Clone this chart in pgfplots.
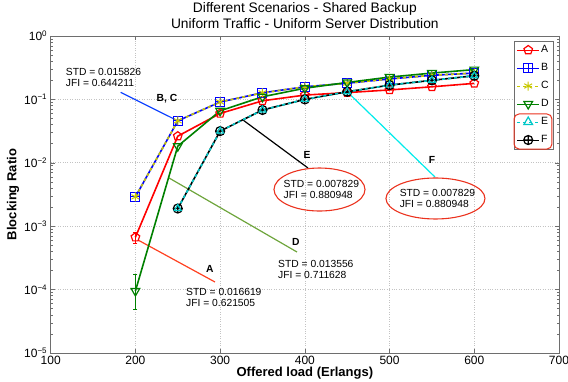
\documentclass[border=0pt]{standalone}
\usepackage{fontspec}
\setmainfont{Liberation Sans}
\usepackage{pgfplots}
\pgfplotsset{compat=1.18}
\usetikzlibrary{plotmarks}

\pgfdeclareplotmark{boxplus}{%
  \pgfpathrectangle{\pgfqpoint{-\pgfplotmarksize}{-\pgfplotmarksize}}{\pgfqpoint{2\pgfplotmarksize}{2\pgfplotmarksize}}%
  \pgfpathmoveto{\pgfqpoint{-\pgfplotmarksize}{0pt}}\pgfpathlineto{\pgfqpoint{\pgfplotmarksize}{0pt}}%
  \pgfpathmoveto{\pgfqpoint{0pt}{-\pgfplotmarksize}}\pgfpathlineto{\pgfqpoint{0pt}{\pgfplotmarksize}}%
  \pgfusepathqstroke}

\definecolor{cA}{RGB}{255,0,0}
\definecolor{cB}{RGB}{0,0,255}
\definecolor{cC}{RGB}{200,200,0}
\definecolor{cD}{RGB}{0,128,0}
\definecolor{cE}{RGB}{0,200,200}
\definecolor{annA}{RGB}{255,64,32}
\definecolor{annD}{RGB}{110,165,60}
\definecolor{annB}{RGB}{20,70,255}
\definecolor{annF}{RGB}{0,235,235}
\definecolor{ell}{RGB}{235,50,30}
\definecolor{gridc}{RGB}{195,195,195}
\definecolor{axc}{RGB}{110,110,110}

\newcommand{\annfont}{\fontsize{10.3}{11}\selectfont}

\begin{document}
\begin{tikzpicture}
\useasboundingbox (-50.7pt,-29pt) rectangle (517.3pt,353pt);
\begin{axis}[
  at={(0pt,0pt)}, anchor=south west,
  scale only axis, width=508.3pt, height=317pt,
  xmin=100, xmax=700, ymin=1e-5, ymax=1, ymode=log,
  xtick={100,200,300,400,500,600,700},
  xticklabels={100,200,300,400,500,600,700},
  ytick={1e-5,1e-4,1e-3,1e-2,1e-1,1},
  yticklabels={10\textsuperscript{−5},10\textsuperscript{−4},10\textsuperscript{−3},10\textsuperscript{−2},10\textsuperscript{−1},10\textsuperscript{0}},
  minor ytick={2e-5,3e-5,4e-5,5e-5,6e-5,7e-5,8e-5,9e-5,2e-4,3e-4,4e-4,5e-4,6e-4,7e-4,8e-4,9e-4,2e-3,3e-3,4e-3,5e-3,6e-3,7e-3,8e-3,9e-3,2e-2,3e-2,4e-2,5e-2,6e-2,7e-2,8e-2,9e-2,0.2,0.3,0.4,0.5,0.6,0.7,0.8,0.9},
  grid=major, major grid style={gridc, dotted, line width=0.6pt},
  axis line style={axc, line width=0.7pt},
  tick style={axc, line width=0.5pt},
  major tick length=4pt, minor tick length=2pt,
  tick align=inside,
  ticklabel style={font=\fontsize{12}{14}\selectfont},
  xlabel={Offered load (Erlangs)}, ylabel={Blocking Ratio},
  label style={font=\fontsize{13}{15}\selectfont\bfseries},
  xlabel style={at={(axis description cs:0.5,-0.063)}, anchor=center, inner sep=0pt},
  ylabel style={at={(axis description cs:-0.0742,0.5)}, anchor=center, inner sep=0pt},
  title={Different Scenarios - Shared Backup\\Uniform Traffic - Uniform Server Distribution},
  title style={align=center, font=\fontsize{13.8}{15.5}\selectfont, at={(axis description cs:0.5,1.045)}, anchor=center, inner sep=0pt},
  legend style={at={(rel axis cs:0.9882,0.984)}, anchor=north east, draw=axc, fill=white,
    font=\fontsize{10.5}{12}\selectfont, inner sep=2.5pt, row sep=5.5pt,
    nodes={inner sep=1.5pt, text height=7.5pt, text depth=2pt}},
  legend cell align=left,
  legend image code/.code={\draw[mark repeat=2,mark phase=2] plot coordinates {(0cm,0cm) (0.39cm,0cm) (0.78cm,0cm)};},
  clip=false,
]
% legend images
\addlegendimage{cA, line width=0.8pt, mark=pentagon, mark size=4.5pt, mark options={solid, line width=1.2pt}}
\addlegendimage{cB, line width=0.8pt, mark=boxplus, mark size=4.5pt, mark options={solid, line width=1pt}}
\addlegendimage{cC, line width=0.8pt, dashed, mark=asterisk, mark size=4.5pt, mark options={solid, line width=1pt}}
\addlegendimage{cD, line width=0.8pt, mark=triangle, mark size=5pt, mark options={solid, rotate=180, line width=1.2pt}}
\addlegendimage{cE, line width=0.8pt, dashed, mark=triangle, mark size=5pt, mark options={solid, line width=1.2pt}}
\addlegendimage{black, line width=0.8pt, mark=oplus, mark size=4.5pt, mark options={solid, line width=1.2pt}}
\legend{A,B,C,D,E,F}

% annotation lines
\draw[annB, line width=1.2pt] (axis cs:182.6,0.1294) -- (axis cs:250,0.0459);
\draw[black, line width=1.2pt] (axis cs:327,0.0473) -- (axis cs:403.7,0.00828);
\draw[annF, line width=1.2pt] (axis cs:450,0.132) -- (axis cs:553.6,0.00597);
\draw[annD, line width=1.2pt] (axis cs:239.7,0.00576) -- (axis cs:390.7,3.92e-4);
\draw[annA, line width=1.2pt] (axis cs:203,6.06e-4) -- (axis cs:293.9,1.318e-4);

% data
\addplot[cA, line width=1.6pt, mark=pentagon, mark size=4.5pt, mark options={solid, line width=1.2pt}, forget plot] coordinates {
(200,6.7e-4) (250,0.0263) (300,0.060) (350,0.095) (400,0.117) (450,0.128) (500,0.141) (550,0.158) (600,0.179)};
\addplot[cA, line width=1pt, mark=-, mark size=2pt, forget plot] coordinates {(200,5.3e-4) (200,8.0e-4)};
\addplot[cB, line width=1.6pt, mark=boxplus, mark size=4.5pt, mark options={solid, line width=1pt}, forget plot] coordinates {
(200,0.0029) (250,0.0459) (300,0.091) (350,0.127) (400,0.158) (450,0.180) (500,0.210) (550,0.240) (600,0.260)};
\addplot[cC, line width=1.6pt, dash pattern=on 3pt off 3pt, mark=asterisk, mark size=4.5pt, mark options={solid, line width=1pt}, forget plot] coordinates {
(200,0.0029) (250,0.0459) (300,0.091) (350,0.127) (400,0.158) (450,0.180) (500,0.210) (550,0.240) (600,0.260)};
\addplot[cD, line width=1.6pt, mark=triangle, mark size=5pt, mark options={solid, rotate=180, line width=1.2pt}, forget plot] coordinates {
(200,9.5e-5) (250,0.0183) (300,0.066) (350,0.110) (400,0.150) (450,0.185) (500,0.225) (550,0.260) (600,0.295)};
\addplot[cD, line width=1pt, mark=-, mark size=2pt, forget plot] coordinates {(200,4.9e-5) (200,1.73e-4)};
\addplot[black, line width=1.6pt, mark=oplus, mark size=4.5pt, mark options={solid, line width=1.2pt}, forget plot] coordinates {
(250,0.0019) (300,0.0316) (350,0.068) (400,0.100) (450,0.132) (500,0.168) (550,0.200) (600,0.236)};
\addplot[cE, line width=1.6pt, dash pattern=on 3pt off 3pt, mark=triangle, mark size=4pt, mark options={solid, line width=1.2pt}, forget plot] coordinates {
(250,0.0019) (300,0.0316) (350,0.068) (400,0.100) (450,0.132) (500,0.168) (550,0.200) (600,0.236)};

% annotation texts
\node[anchor=west, align=left, font=\annfont, inner sep=0pt] at (axis cs:117.7,0.219) {STD = 0.015826\\JFI = 0.644211};
\node[font=\annfont\bfseries, inner sep=0pt] at (axis cs:237.3,0.104) {B, C};
\node[font=\annfont\bfseries, inner sep=0pt] at (axis cs:402.5,0.01327) {E};
\draw[ell, line width=1.1pt] (axis cs:417.3,0.00379) ellipse [x radius=45.5pt, y radius=21.5pt];
\node[align=left, font=\annfont, inner sep=0pt] at (axis cs:419.5,0.00385) {STD = 0.007829\\JFI = 0.880948};
\node[font=\annfont\bfseries, inner sep=0pt] at (axis cs:550,0.01107) {F};
\draw[ell, line width=1.1pt] (axis cs:554.2,0.002735) ellipse [x radius=49.5pt, y radius=20.5pt];
\node[align=left, font=\annfont, inner sep=0pt] at (axis cs:556.5,0.00278) {STD = 0.007829\\JFI = 0.880948};
\node[font=\annfont\bfseries, inner sep=0pt] at (axis cs:389.5,5.64e-4) {D};
\node[anchor=west, align=left, font=\annfont, inner sep=0pt] at (axis cs:368.3,2.11e-4) {STD = 0.013556\\JFI = 0.711628};
\node[font=\annfont\bfseries, inner sep=0pt] at (axis cs:288,2.11e-4) {A};
\node[anchor=west, align=left, font=\annfont, inner sep=0pt] at (axis cs:259.7,7.64e-5) {STD = 0.016619\\JFI = 0.621505};

\coordinate (r1) at (rel axis cs:0.9115,0.754);
\coordinate (r2) at (rel axis cs:0.9862,0.6435);
\end{axis}
\draw[ell, line width=1pt, rounded corners=5pt] (r1) rectangle (r2);
\end{tikzpicture}
\end{document}
